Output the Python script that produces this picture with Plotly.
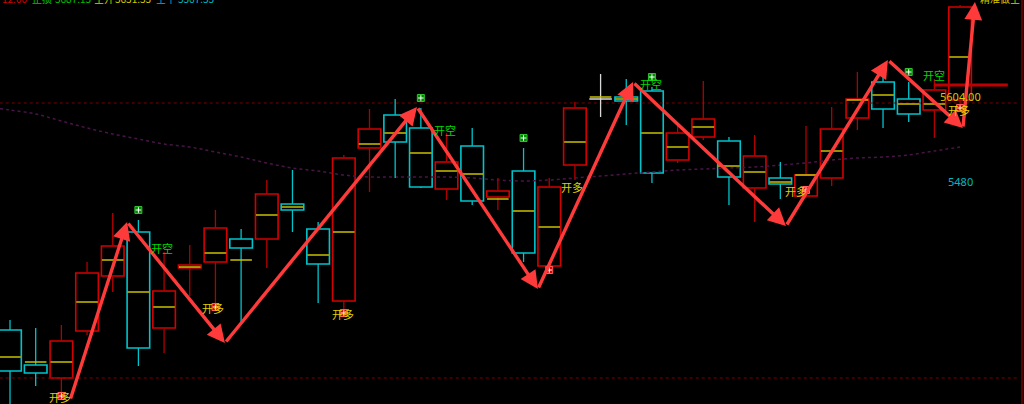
import plotly.graph_objects as go

# ---------------- data ----------------
opens = [5255, 5202.5, 5183, 5253.5, 5336, 5402, 5258, 5348, 5357, 5391.5,
         5391.5, 5444, 5406.5, 5298.5, 5528, 5577.5, 5558, 5466.5, 5531, 5454.5,
         5493.5, 5351, 5502.5, 5601.5, 5604.5, 5613.5, 5510, 5544.5, 5538.5, 5468,
         5483, 5456, 5483, 5573, 5627, 5601.5, 5585, 5600]
closes = [5193.5, 5190.5, 5238.5, 5340.5, 5381, 5228, 5313.5, 5352.5, 5408, 5378,
          5459, 5435, 5354, 5513, 5556.5, 5537, 5469.5, 5507, 5448.5, 5463.5,
          5370.5, 5469.5, 5588, 5601.5, 5598.5, 5490.5, 5550.5, 5571.5, 5484.5, 5516,
          5474, 5487.5, 5556.5, 5601.5, 5586.5, 5579, 5615, 5739.5]
highs = [5270, 5258, 5262.5, 5357, 5430.5, 5420, 5372, 5382.5, 5435, 5406.5,
         5480, 5495, 5417, 5517.5, 5586.5, 5601.5, 5588, 5550.5, 5558, 5483,
         5528, 5483, 5597, 5639, 5631.5, 5619.5, 5562.5, 5628.5, 5544.5, 5547.5,
         5507, 5561, 5589.5, 5642, 5634.5, 5627, 5631.5, 5742.5]
lows = [5135, 5171, 5156, 5247.5, 5312, 5201, 5220.5, 5306, 5291, 5265.5,
        5348, 5402, 5295.5, 5277.5, 5462, 5483, 5468, 5450, 5442.5, 5435,
        5357, 5346.5, 5480, 5574.5, 5562.5, 5475.5, 5505.5, 5540, 5442.5, 5417,
        5451.5, 5453, 5471, 5555, 5558, 5567, 5543, 5588]
avg_line = [5214.5, 5207, 5207, 5297, 5360, 5312, 5289.5, 5349.5, 5370.5, 5360,
            5427.5, 5439.5, 5367.5, 5402, 5534, 5550.5, 5520.5, 5493.5, 5489, 5451.5,
            5433.5, 5409.5, 5537, 5604.5, 5601.5, 5550.5, 5529.5, 5559.5, 5501, 5492,
            5477, 5487.5, 5523.5, 5600, 5607.5, 5594, 5594, 5664.5]
ma_line = [5585, 5579, 5568.5, 5558, 5549, 5541.5, 5534, 5529.5, 5522, 5514.5,
           5505.5, 5498, 5493.5, 5487.5, 5484.5, 5484.5, 5484.5, 5484.5, 5483, 5480,
           5478.5, 5480, 5483, 5486, 5489, 5492, 5495, 5496.5, 5498, 5499.5,
           5502.5, 5505.5, 5510, 5513, 5514.5, 5517.5, 5523.5, 5529.5]

# swing-line (arrow) path: candle-index positions and prices
swing_x = [2.34, 4.56, 8.37, 15.85, 20.56, 24.26, 30.22, 34.19, 37.11, 37.58]
swing_y = [5150, 5417, 5235.5, 5589.5, 5316.5, 5627, 5411, 5660, 5558, 5747]

# signals
long_dot_x = [2, 8, 13, 21, 31, 37]
long_dot_y = [5156, 5289.5, 5280.5, 5345, 5465, 5588]
long_lbl_x = [1.95, 7.9, 12.95, 21.9, 30.6, 36.95]
long_lbl_y = [5154.5, 5288, 5279, 5469.5, 5463.5, 5585]
short_dot_x = [5, 16, 20, 25, 35]
short_dot_y = [5435, 5603, 5543, 5634.5, 5642]
short_lbl_x = [5.92, 16.94, 24.96, 35.98]
short_lbl_y = [5378, 5555, 5624, 5637.5]

level_high = 5595.5
level_low = 5183
last_price_line = 5622.5
last_line_x = [35.98, 38.86]
price_label_1 = "5604.00"
price_label_1_y = 5606
price_label_2 = "5480"
price_label_2_y = 5478.5

header_items = [("12.00", "#d00000"), ("止损", "#00c000"), ("5687.15", "#00c000"),
                ("空开", "#d8c800"), ("5651.55", "#d8c800"),
                ("空平", "#00b8c0"), ("5567.55", "#00b8c0")]
header_px = [0, 30, 53, 92, 113, 154, 176]

RED = "#d40000"
RED_WICK = "#b00000"
CYAN = "#00c4cc"
YEL = "#c8c000"
WHITE = "#d8d8d8"

n = len(opens)
idx = list(range(n))

fig = go.Figure()

# dotted level lines
for lv in (level_high, level_low):
    fig.add_trace(go.Scatter(x=[-0.4, 39.3], y=[lv, lv], mode="lines",
                             line=dict(color="#7a0000", width=1, dash="dot"),
                             hoverinfo="skip", showlegend=False))

# moving average dotted curve
fig.add_trace(go.Scatter(x=[-0.4] + idx, y=[ma_line[0] + 2] + ma_line, mode="lines",
                         line=dict(color="#4a1448", width=1.5, dash="dot", shape="spline"),
                         hoverinfo="skip", showlegend=False))

# wicks
for kind, col in (("up", RED_WICK), ("down", CYAN), ("doji", WHITE)):
    wx, wy = [], []
    for i in idx:
        o, c = opens[i], closes[i]
        k = "up" if c > o else ("down" if c < o else "doji")
        if k != kind:
            continue
        top, bot = max(o, c), min(o, c)
        wx += [i, i, None, i, i, None]
        wy += [highs[i], top, None, bot, lows[i], None]
    fig.add_trace(go.Scatter(x=wx, y=wy, mode="lines", line=dict(color=col, width=1.3),
                             hoverinfo="skip", showlegend=False))

# hollow bodies
for kind, col in (("up", RED), ("down", CYAN)):
    bx, bh, bb = [], [], []
    for i in idx:
        o, c = opens[i], closes[i]
        if kind == "up" and c > o:
            bx.append(i); bh.append(c - o); bb.append(o)
        if kind == "down" and c < o:
            bx.append(i); bh.append(o - c); bb.append(c)
    fig.add_trace(go.Bar(x=bx, y=bh, base=bb, width=0.88,
                         marker=dict(color="rgba(0,0,0,0)", line=dict(color=col, width=1.6)),
                         hoverinfo="skip", showlegend=False))

# doji bodies
dx, dy = [], []
for i in idx:
    if opens[i] == closes[i]:
        dx += [i - 0.44, i + 0.44, None]
        dy += [opens[i], opens[i], None]
fig.add_trace(go.Scatter(x=dx, y=dy, mode="lines", line=dict(color=WHITE, width=1.5),
                         hoverinfo="skip", showlegend=False))

# yellow average ticks
ax_, ay_ = [], []
for i in idx:
    ax_ += [i - 0.42, i + 0.42, None]
    ay_ += [avg_line[i], avg_line[i], None]
fig.add_trace(go.Scatter(x=ax_, y=ay_, mode="lines", line=dict(color=YEL, width=1.5),
                         hoverinfo="skip", showlegend=False))

# last price line
fig.add_trace(go.Scatter(x=last_line_x, y=[last_price_line] * 2, mode="lines",
                         line=dict(color="#c00000", width=3), hoverinfo="skip", showlegend=False))

# swing arrows
for k in range(len(swing_x) - 1):
    fig.add_annotation(x=swing_x[k + 1], y=swing_y[k + 1], ax=swing_x[k], ay=swing_y[k],
                       xref="x", yref="y", axref="x", ayref="y", text="",
                       showarrow=True, arrowhead=2, arrowsize=1.05, arrowwidth=3.4,
                       arrowcolor="#ff3a3a", standoff=0, startstandoff=0)

# signal labels
for x, y in zip(long_lbl_x, long_lbl_y):
    fig.add_annotation(x=x, y=y, text="开多", showarrow=False,
                       font=dict(color="#e0d000", size=11, family="Noto Sans CJK SC"))
for x, y in zip(short_lbl_x, short_lbl_y):
    fig.add_annotation(x=x, y=y, text="开空", showarrow=False,
                       font=dict(color="#00d800", size=11, family="Noto Sans CJK SC"))

# signal markers
fig.add_trace(go.Scatter(x=long_dot_x, y=long_dot_y, mode="markers",
                         marker=dict(symbol="square", size=7, color="#e00000",
                                     line=dict(color="#ff6060", width=1)),
                         hoverinfo="skip", showlegend=False))
fig.add_trace(go.Scatter(x=long_dot_x, y=long_dot_y, mode="markers",
                         marker=dict(symbol="cross-thin", size=4, line=dict(color="white", width=1)),
                         hoverinfo="skip", showlegend=False))
fig.add_trace(go.Scatter(x=short_dot_x, y=short_dot_y, mode="markers",
                         marker=dict(symbol="square", size=7, color="#008a00",
                                     line=dict(color="#30c030", width=1)),
                         hoverinfo="skip", showlegend=False))
fig.add_trace(go.Scatter(x=short_dot_x, y=short_dot_y, mode="markers",
                         marker=dict(symbol="cross-thin", size=4, line=dict(color="white", width=1)),
                         hoverinfo="skip", showlegend=False))

# price labels
fig.add_annotation(x=37, y=price_label_1_y, text=price_label_1, showarrow=False,
                   font=dict(color="#d8c800", size=11, family="Noto Sans"))
fig.add_annotation(x=37, y=price_label_2_y, text=price_label_2, showarrow=False,
                   font=dict(color="#00b8c0", size=11, family="Noto Sans"))

# header texts (partly clipped at the top, as in the source screenshot)
for (t, col), px in zip(header_items, header_px):
    fig.add_annotation(x=px / 1024.0, y=1.0, xref="paper", yref="paper", xanchor="left",
                       yanchor="middle", text=t, showarrow=False, yshift=2,
                       font=dict(color=col, size=10, family="Noto Sans CJK SC"))
fig.add_annotation(x=978 / 1024.0, y=1.0, xref="paper", yref="paper", xanchor="left",
                   yanchor="middle", text="精准做空", showarrow=False, yshift=2,
                   font=dict(color="#d8c800", size=10, family="Noto Sans CJK SC"))

# right border line
fig.add_shape(type="line", xref="paper", yref="paper", x0=1022 / 1024, x1=1022 / 1024,
              y0=0, y1=1, line=dict(color="#b00000", width=1))

fig.update_layout(
    width=1024, height=404, margin=dict(l=0, r=0, t=0, b=0),
    paper_bgcolor="black", plot_bgcolor="black", barmode="overlay",
    xaxis=dict(range=[-0.39, 39.49], visible=False, fixedrange=True),
    yaxis=dict(range=[5144, 5750], visible=False, fixedrange=True),
    showlegend=False,
)

fig.write_html("out.html", config={"displayModeBar": False},
               post_script="document.body.style.margin='0';document.body.style.background='black';")
